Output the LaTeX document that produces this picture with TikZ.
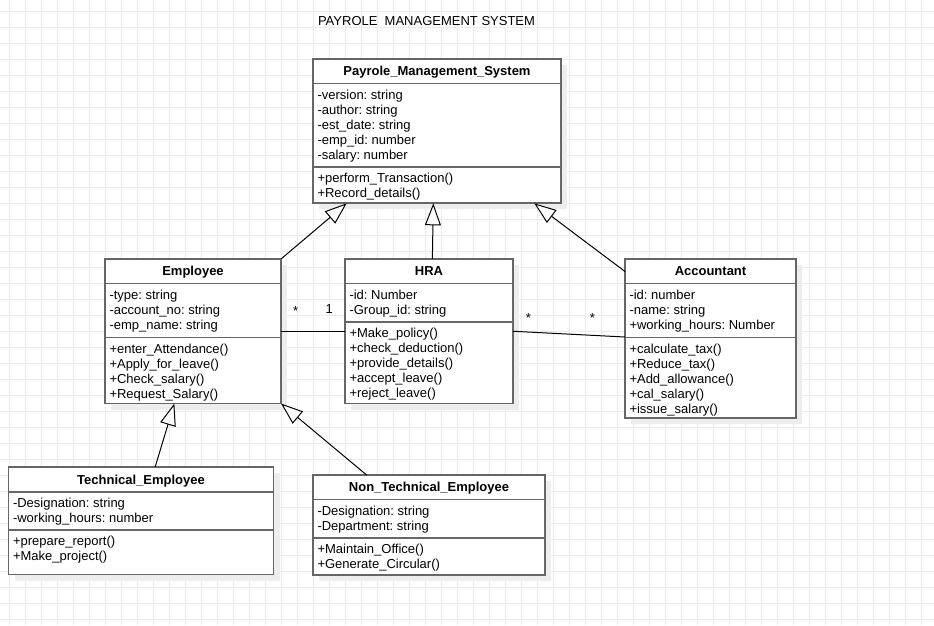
\documentclass[tikz,border=0pt]{standalone}
\usepackage{fontspec}
\setmainfont{Liberation Sans}
\usetikzlibrary{calc,arrows.meta,shadows}
\definecolor{boxgray}{HTML}{666666}
\definecolor{gridgray}{HTML}{EBEBEB}
\definecolor{shadowgray}{HTML}{EDEDED}
\tikzset{
    classbox/.style={draw=boxgray, line width=1.8pt, fill=white, anchor=north west, inner sep=0pt, outer sep=0pt,
      drop shadow={shadow xshift=6pt, shadow yshift=-6pt, fill=shadowgray, opacity=1}},
    classline/.style={draw=boxgray, line width=1.8pt},
    classname/.style={font=\fontsize{13}{15}\selectfont\bfseries, inner sep=0pt, text height=9.3pt, text depth=0pt},
    classtext/.style={anchor=north west, align=left, inner xsep=4.5pt, inner ysep=6.5pt, outer sep=0pt,
      font=\fontsize{13}{15}\selectfont\frenchspacing, execute at begin node=\strut},
    inherit/.style={draw=black, line width=1pt, -{Triangle[length=22pt, width=16pt, fill=white]}},
    assoc/.style={draw=black, line width=1pt},
    mult/.style={font=\fontsize{13}{15}\selectfont, inner sep=0pt, anchor=base},
    gridline/.style={draw=gridgray, line width=1pt},
  }
% #1 name, #2 top left, #3 width, #4 head height, #5 attribute height, #6 total height,
% #7 title, #8 attributes, #9 operations
\newcommand{\umlclass}[9]{%
  \node[classbox, minimum width=#3, minimum height=#6] (#1) at (#2) {};
  \node[classname] (#1-name) at ($(#1.north)+(0,#4/2)$) {#7};
  \draw[classline] ($(#1.north west)+(0,#4)$) -- ($(#1.north east)+(0,#4)$);
  \draw[classline] ($(#1.north west)+(0,#4+#5)$) -- ($(#1.north east)+(0,#4+#5)$);
  \node[classtext] (#1-attr) at ($(#1.north west)+(0,#4)$) {#8};
  \node[classtext] (#1-ops) at ($(#1.north west)+(0,#4+#5)$) {#9};
}
\begin{document}
\begin{tikzpicture}[x=1pt, y=-1pt]
  \useasboundingbox (0,0) rectangle (934,625);
  \fill[white] (0,0) rectangle (934,625);
  %grid
  \foreach \gx in {0,...,57} \draw[gridline] (9.3+16*\gx,0) -- (9.3+16*\gx,625);
  \foreach \gy in {0,...,38} \draw[gridline] (0,11.3+16*\gy) -- (934,11.3+16*\gy);

  \node[font=\fontsize{13}{15}\selectfont, inner sep=0pt, text height=9.3pt, text depth=0pt] (title) at (426.5,21) {PAYROLE\ \ MANAGEMENT SYSTEM};

  %classes
  \umlclass{pms}{313,59}{248}{24.5}{83.5}{144.3}{Payrole\_Management\_System}
    {-version: string\\-author: string\\-est\_date: string\\-emp\_id: number\\-salary: number}
    {+perform\_Transaction()\\+Record\_details()}
  \umlclass{emp}{105,259}{176}{24.5}{54}{144.5}{Employee}
    {-type: string\\-account\_no: string\\-emp\_name: string}
    {+enter\_Attendance()\\+Apply\_for\_leave()\\+Check\_salary()\\+Request\_Salary()}
  \umlclass{hra}{345,259}{168}{24.5}{38.2}{144.5}{HRA}
    {-id: Number\\-Group\_id: string}
    {+Make\_policy()\\+check\_deduction()\\+provide\_details()\\+accept\_leave()\\+reject\_leave()}
  \umlclass{acc}{625,259}{171}{24.5}{54}{159.3}{Accountant}
    {-id: number\\-name: string\\+working\_hours: Number}
    {+calculate\_tax()\\+Reduce\_tax()\\+Add\_allowance()\\+cal\_salary()\\+issue\_salary()}
  \umlclass{tech}{8.5,467.3}{265}{24.4}{38.3}{107.2}{Technical\_Employee}
    {-Designation: string\\-working\_hours: number}
    {+prepare\_report()\\+Make\_project()}
  \umlclass{ntech}{313,475}{232}{24.4}{38.2}{100}{Non\_Technical\_Employee}
    {-Designation: string\\-Department: string}
    {+Maintain\_Office()\\+Generate\_Circular()}

  %generalisation
  \draw[inherit] (emp.north east) -- ($(pms.south west)!0.136!(pms.south east)$);
  \draw[inherit] ($(hra.north west)!0.52!(hra.north east)$) -- ($(pms.south west)!0.485!(pms.south east)$);
  \draw[inherit] ($(acc.north west)+(0,12.5)$) -- ($(pms.south west)!0.892!(pms.south east)$);
  \draw[inherit] ($(tech.north west)!0.553!(tech.north east)$) -- ($(emp.south west)!0.394!(emp.south east)$);
  \draw[inherit] ($(ntech.north west)!0.231!(ntech.north east)$) -- (emp.south east);

  %association
  \draw[assoc] (emp.east) -- (hra.west);
  \draw[assoc] (hra.east) -- ($(acc.north west)+(0,78)$);
  \node[mult] (emp-mult) at (295.7,315.8) {*};
  \node[mult] (hra-mult-l) at (329.3,313.3) {1};
  \node[mult] (hra-mult-r) at (528.3,322.2) {*};
  \node[mult] (acc-mult) at (592.3,322.2) {*};
\end{tikzpicture}
\end{document}
